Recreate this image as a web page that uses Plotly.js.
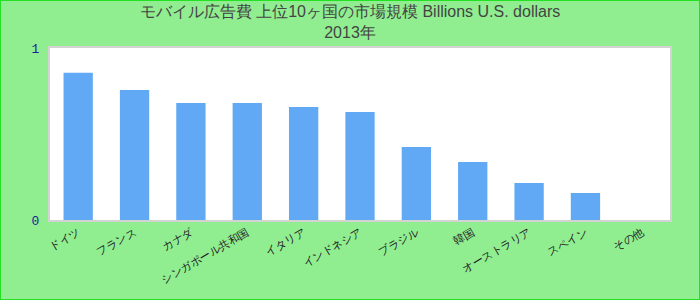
<!DOCTYPE html>
<html>
<head>
<meta charset="utf-8">
<script src="https://cdn.plot.ly/plotly-3.0.1.min.js"></script>
<style>
  html, body { margin: 0; padding: 0; background: #90ee90; }
  #wrap { position: relative; width: 700px; height: 300px; }
  #chart { width: 700px; height: 300px; }
  #frame { position: absolute; left: 0; top: 0; width: 700px; height: 300px;
           box-sizing: border-box; border: 1px solid #22e022; pointer-events: none; }
</style>
</head>
<body>
<div id="wrap">
  <div id="chart"></div>
  <div id="frame"></div>
</div>
<script>
// Data
const categories = ["ドイツ", "フランス", "カナダ", "シンガポール共和国", "イタリア",
                    "インドネシア", "ブラジル", "韓国", "オーストラリア", "スペイン", "その他"];
const values = [0.856, 0.756, 0.680, 0.680, 0.657, 0.628, 0.424, 0.337, 0.215, 0.157, 0];
const yTickVals = [0, 1];
const yTickText = ["0", "1"];
const titleText = "モバイル広告費 上位10ヶ国の市場規模 Billions U.S. dollars<br>2013年";

const trace = {
  type: 'bar',
  x: categories,
  y: values,
  marker: { color: '#61a9f5' },
  hoverinfo: 'x+y'
};

const layout = {
  width: 700,
  height: 300,
  margin: { l: 50, r: 30, t: 48, b: 80 },
  paper_bgcolor: '#90ee90',
  plot_bgcolor: '#ffffff',
  bargap: 0.48,
  showlegend: false,
  title: {
    text: titleText,
    font: { family: 'Liberation Sans, Arial, sans-serif', size: 16, color: '#444444' },
    x: 0.5, xanchor: 'center',
    xref: 'container', yref: 'container',
    y: 0.942, yanchor: 'middle'
  },
  xaxis: {
    type: 'category',
    tickangle: -30,
    tickfont: { family: 'Liberation Sans, Arial, sans-serif', size: 11, color: '#222222' },
    showline: true, mirror: true, linecolor: '#d3d3d3', linewidth: 2,
    showgrid: false, zeroline: false, ticks: ''
  },
  yaxis: {
    range: [0, 1],
    tickvals: yTickVals,
    ticktext: yTickText,
    tickfont: { family: 'Liberation Mono, Courier New, monospace', size: 13, color: '#1c1c9c' },
    ticks: 'outside', ticklen: 6, tickcolor: 'rgba(0,0,0,0)',
    showline: true, mirror: true, linecolor: '#d3d3d3', linewidth: 2,
    showgrid: false, zeroline: false
  }
};

Plotly.newPlot('chart', [trace], layout, { displayModeBar: false, staticPlot: true });
</script>
</body>
</html>
